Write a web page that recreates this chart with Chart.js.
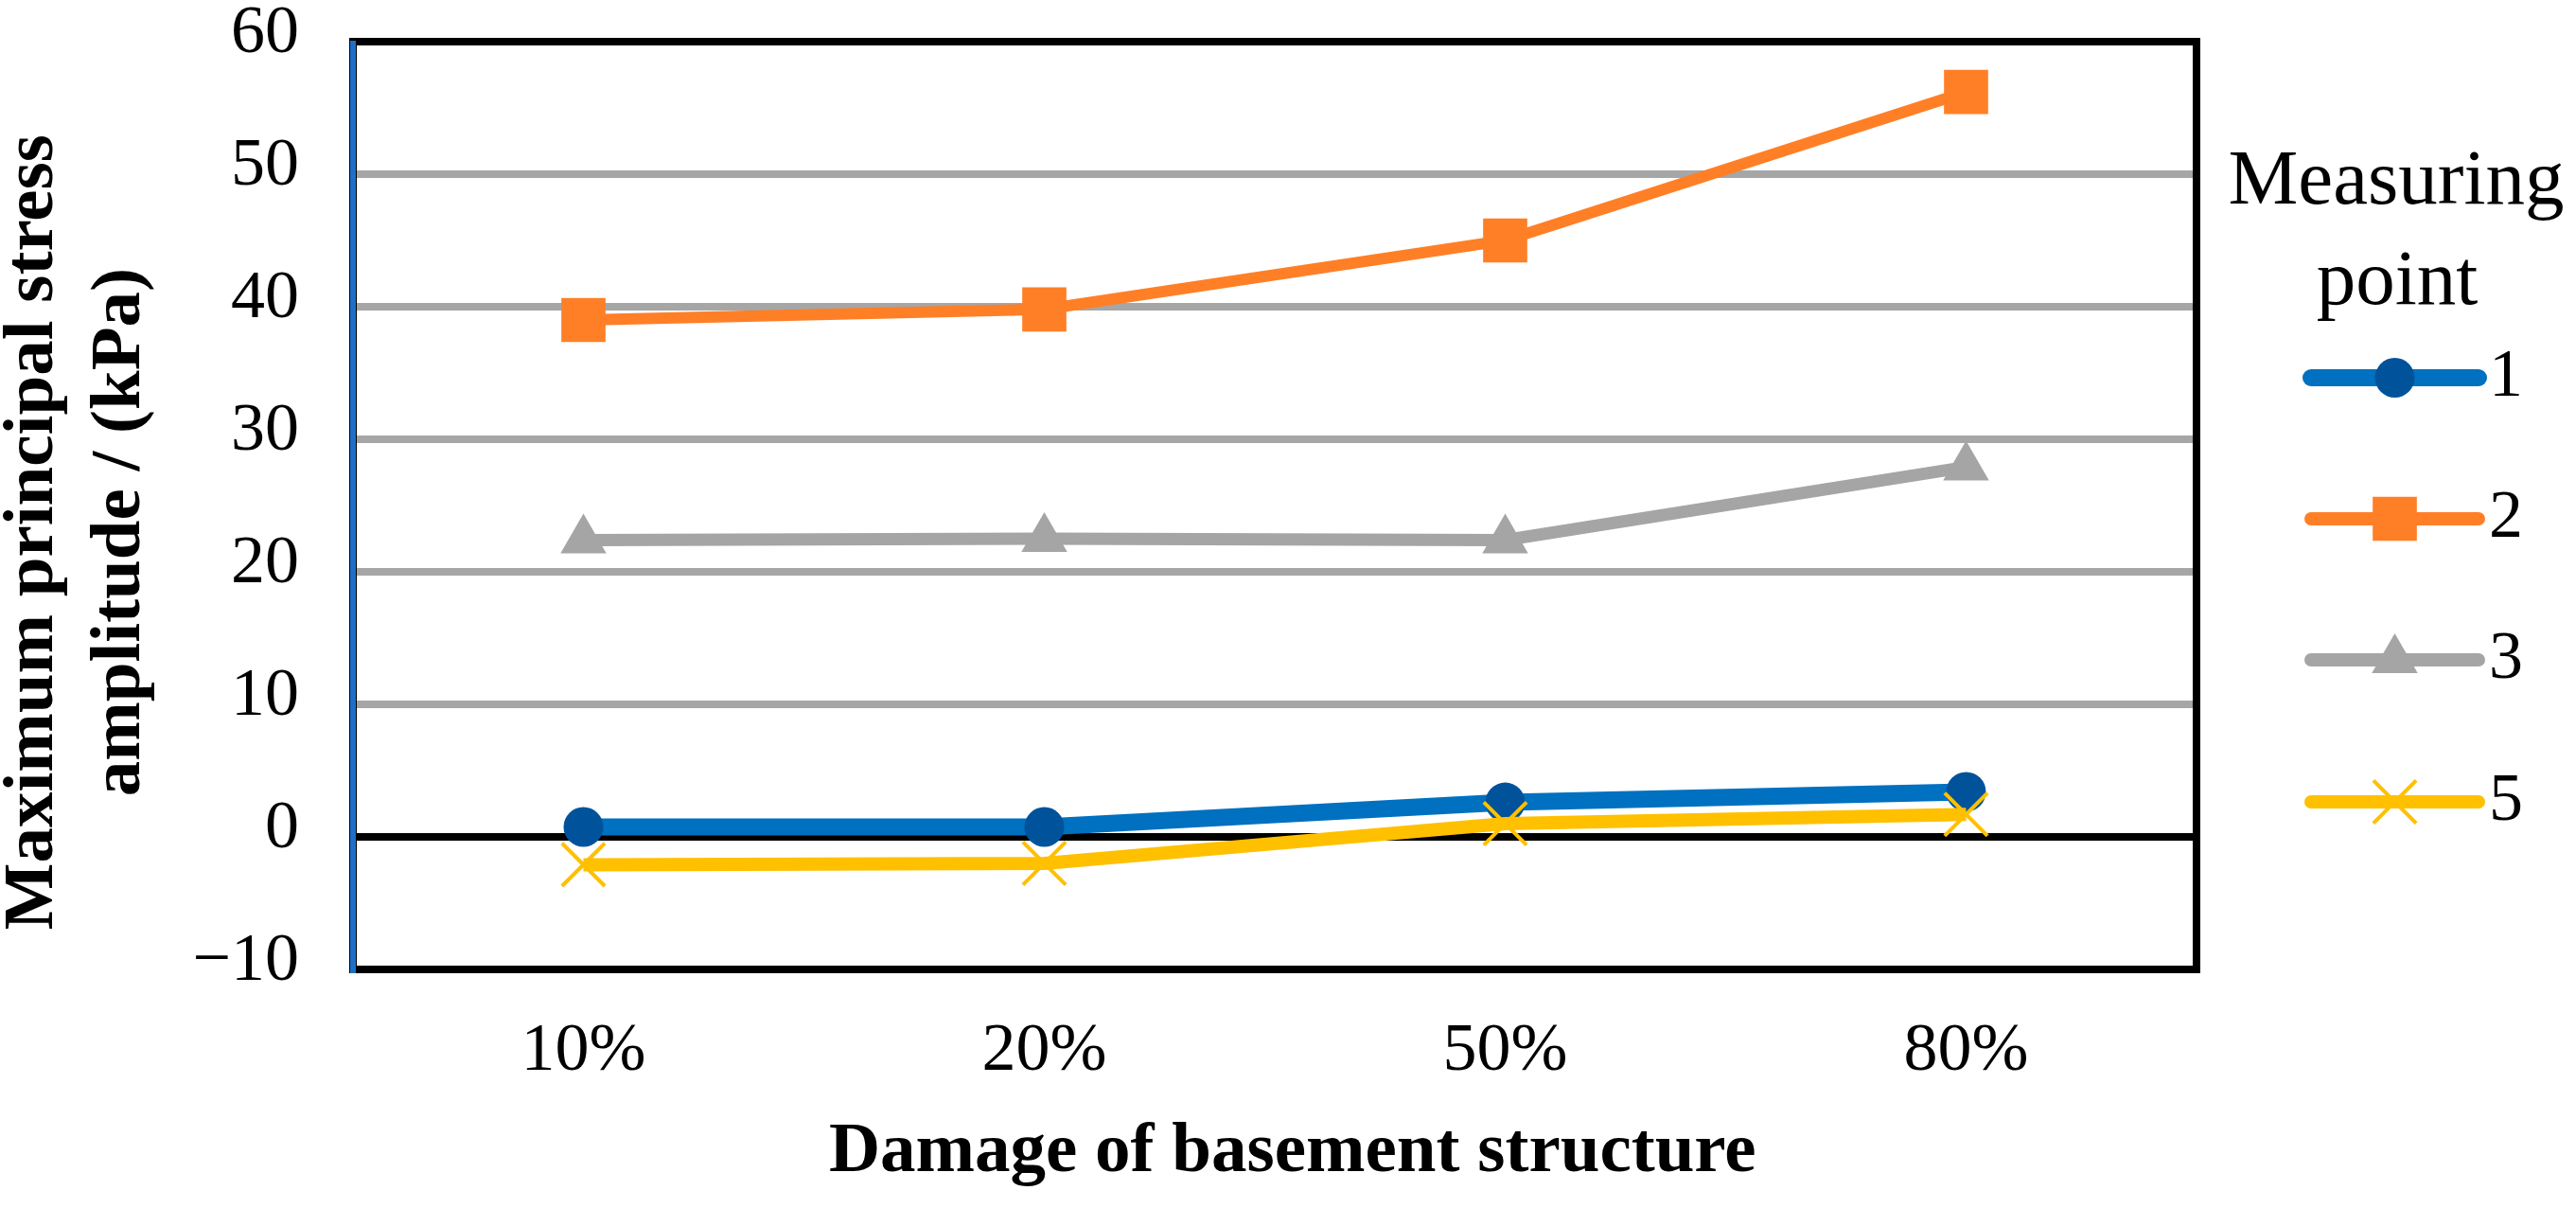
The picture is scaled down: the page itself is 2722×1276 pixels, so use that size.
<!DOCTYPE html>
<html>
<head>
<meta charset="utf-8">
<script src="https://cdn.jsdelivr.net/npm/chart.js@4.4.1/dist/chart.umd.min.js"></script>
<style>
  html, body { margin: 0; padding: 0; background: #fff; }
  #wrap { width: 2722px; height: 1276px; }
</style>
</head>
<body>
<div id="wrap"><canvas id="chart"></canvas></div>
<script>
const categories = ["10%", "20%", "50%", "80%"];
const seriesNames = ["1", "2", "3", "5"];
const point1 = [0.75, 0.75, 2.6, 3.4];
const point2 = [39.0, 39.8, 45.0, 56.2];
const point3 = [22.4, 22.5, 22.4, 27.9];
const point5 = [-2.1, -2.0, 1.0, 1.7];
const yMin = -10;
const yMax = 60;
const yStep = 10;

const legendTitle = ["Measuring", "point"];
const xTitle = "  Damage of basement structure";
const yTitle = ["Maximum principal stress   ", "amplitude / (kPa)   "];

Chart.defaults.font.family = "'Liberation Serif', 'Times New Roman', serif";
Chart.defaults.color = "#000";

// plot frame: black box, blue left axis line
const framePlugin = {
  id: "frame",
  beforeDatasetsDraw(chart) {
    const { ctx, chartArea: a } = chart;
    ctx.save();
    ctx.strokeStyle = "#000";
    ctx.lineWidth = 8;
    ctx.strokeRect(a.left, a.top, a.right - a.left, a.bottom - a.top);
    ctx.strokeStyle = "#1F6FC6";
    ctx.lineWidth = 6;
    ctx.beginPath();
    ctx.moveTo(a.left, a.top - 1);
    ctx.lineTo(a.left, a.bottom + 4);
    ctx.stroke();
    ctx.restore();
  },
};

// legend with line + marker samples, like the spreadsheet one
const sampleLegend = {
  id: "sampleLegend",
  afterDraw(chart) {
    const { ctx, chartArea: a } = chart;
    const x0 = a.right + 121;
    const len = 177;
    ctx.save();
    ctx.fillStyle = "#000";
    ctx.textAlign = "center";
    ctx.textBaseline = "alphabetic";
    ctx.font = "83px 'Liberation Serif'";
    ctx.fillText(legendTitle[0], a.right + 211, 215);
    ctx.fillText(legendTitle[1], a.right + 212, 321);

    const rows = [399, 548, 697, 847];
    chart.data.datasets.forEach((ds, i) => {
      const y = rows[i];
      ctx.strokeStyle = ds.borderColor;
      ctx.lineWidth = ds.legendLineWidth;
      ctx.lineCap = "round";
      ctx.beginPath();
      ctx.moveTo(x0, y);
      ctx.lineTo(x0 + len, y);
      ctx.stroke();

      ctx.fillStyle = ds.pointBackgroundColor;
      ctx.strokeStyle = ds.pointBorderColor;
      ctx.lineWidth = ds.pointBorderWidth;
      ctx.lineCap = "butt";
      Chart.helpers.drawPoint(ctx, {
        pointStyle: ds.pointStyle,
        radius: ds.pointRadius,
        borderWidth: ds.pointBorderWidth,
        rotation: 0,
      }, x0 + len / 2, y);

      ctx.fillStyle = "#000";
      ctx.textAlign = "left";
      ctx.textBaseline = "middle";
      ctx.font = "72px 'Liberation Serif'";
      ctx.fillText(ds.label, x0 + len + 11, y);
    });
    ctx.restore();
  },
};

const ctx = document.getElementById("chart").getContext("2d");
new Chart(ctx, {
  type: "line",
  data: {
    labels: categories,
    datasets: [
      {
        label: seriesNames[0],
        data: point1,
        borderColor: "#0070C0",
        borderWidth: 18,
        legendLineWidth: 18,
        pointStyle: "circle",
        pointRadius: 21,
        pointBackgroundColor: "#00539B",
        pointBorderColor: "#00539B",
        pointBorderWidth: 0,
        order: 4,
      },
      {
        label: seriesNames[1],
        data: point2,
        borderColor: "#FF7F27",
        borderWidth: 12,
        legendLineWidth: 14,
        pointStyle: "rect",
        pointRadius: 33,
        pointBackgroundColor: "#FF7F27",
        pointBorderColor: "#FF7F27",
        pointBorderWidth: 0,
        order: 3,
      },
      {
        label: seriesNames[2],
        data: point3,
        borderColor: "#A5A5A5",
        borderWidth: 13,
        legendLineWidth: 14,
        pointStyle: "triangle",
        pointRadius: 28,
        pointBackgroundColor: "#A5A5A5",
        pointBorderColor: "#A5A5A5",
        pointBorderWidth: 0,
        order: 2,
      },
      {
        label: seriesNames[3],
        data: point5,
        borderColor: "#FFC000",
        borderWidth: 14,
        legendLineWidth: 14,
        pointStyle: "crossRot",
        pointRadius: 32,
        pointBackgroundColor: "#FFC000",
        pointBorderColor: "#FFC000",
        pointBorderWidth: 4,
        order: 1,
      },
    ],
  },
  options: {
    responsive: true,
    maintainAspectRatio: false,
    animation: false,
    devicePixelRatio: 1,
    layout: { padding: { top: 44, right: 401, left: 0, bottom: 0 } },
    plugins: {
      legend: { display: false },
      tooltip: { enabled: false },
    },
    elements: { line: { tension: 0 } },
    scales: {
      x: {
        offset: true,
        grid: { display: false, drawTicks: false },
        border: { display: false },
        ticks: { font: { size: 72 }, padding: 44 },
        title: {
          display: true,
          text: xTitle,
          font: { size: 75, weight: "bold" },
          padding: { top: 0, bottom: 13 },
        },
        afterFit(scale) {
          scale.height = 252;
          scale.paddingLeft = 0;
          scale.paddingRight = 0;
        },
      },
      y: {
        min: yMin,
        max: yMax,
        ticks: {
          stepSize: yStep,
          font: { size: 72 },
          padding: 57,
          labelOffset: -8,
          callback: (v) => (v < 0 ? "\u2212" + Math.abs(v) : String(v)),
        },
        grid: {
          drawTicks: false,
          lineWidth: 8,
          color: (c) => (c.tick && c.tick.value === 0 ? "#000" : "#A6A6A6"),
        },
        border: { display: false },
        title: {
          display: true,
          text: yTitle,
          font: { size: 75, weight: "bold", lineHeight: 1.227 },
          padding: { top: -10, bottom: 0 },
        },
        afterFit(scale) {
          scale.width = 373;
          scale.paddingTop = 0;
          scale.paddingBottom = 0;
        },
      },
    },
  },
  plugins: [framePlugin, sampleLegend],
});
</script>
</body>
</html>
